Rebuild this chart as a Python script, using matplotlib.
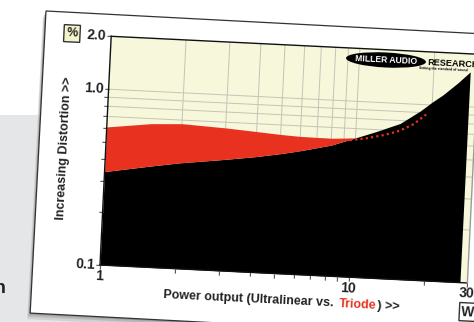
import numpy as np
import matplotlib
matplotlib.use('Agg')
import matplotlib.pyplot as plt
from matplotlib.patches import Polygon, Ellipse
from matplotlib.transforms import Affine2D, blended_transform_factory
from matplotlib.scale import LogTransform
from mpl_toolkits.axisartist import floating_axes
from mpl_toolkits.axisartist.grid_finder import FixedLocator, DictFormatter

plt.rcParams['font.family'] = ['Liberation Sans', 'DejaVu Sans']

# ── data (W, % THD) ───────────────────────────────────────────────────────────
power_ul = [1, 1.5, 2, 3, 4, 5, 6, 8, 10, 12, 15, 18, 20, 22, 25, 28]
dist_ul  = [0.34, 0.375, 0.40, 0.43, 0.455, 0.48, 0.505, 0.555, 0.62,
            0.68, 0.77, 0.92, 1.04, 1.15, 1.35, 1.58]
power_tri = [1, 1.5, 2, 3, 4, 5, 6, 8, 10]
dist_tri  = [0.61, 0.655, 0.668, 0.65, 0.632, 0.618, 0.61, 0.607, 0.62]
power_tri_hi = [9.5, 11, 13, 15, 17, 19]
dist_tri_hi  = [0.60, 0.62, 0.655, 0.70, 0.77, 0.88]

x_ticks  = [1, 2, 3, 4, 5, 6, 7, 8, 9, 10, 20, 30]
x_labels = {1: '1', 10: '10', 30: '30'}
y_ticks  = [0.1, 0.2, 0.3, 0.4, 0.5, 0.6, 0.7, 0.8, 0.9, 1.0, 2.0]
y_labels = {0.1: '0.1', 1.0: '1.0', 2.0: '2.0'}

# colours
CREAM = '#f7f7dc'
RED   = '#e8321f'
GRID  = '#c4c4b8'
BAND  = '#e5e6e8'
INK   = '#222222'

W_PX, H_PX = 474, 322
ANG = -2.8                  # the card is tilted clockwise
ORIGIN = (100, H_PX - 265)  # pixel position of (1 W, 0.1 %)

fig = plt.figure(figsize=(W_PX / 100, H_PX / 100), dpi=100)
fig.patch.set_facecolor('white')

# ── background: grey band + tilted white card ────────────────────────────────
bg = fig.add_axes([0, 0, 1, 1], zorder=0)
bg.set_xlim(0, W_PX)
bg.set_ylim(H_PX, 0)
bg.axis('off')
bg.add_patch(Polygon([(0, 115), (W_PX, 115), (W_PX, H_PX), (0, H_PX)],
                     closed=True, fc=BAND, ec='none'))

t = np.deg2rad(3.0)
u = np.array([np.cos(t), np.sin(t)])
d = np.array([-np.sin(t), np.cos(t)])
tl = np.array([46.0, 11.0])
card = [tl, tl + 650 * u, tl + 650 * u + 302.5 * d, tl + 302.5 * d]
for off, col, a in [((-3, 6), '#c4c4c4', 0.6), ((-2, 3.5), '#a8a8a8', 0.6),
                    ((-1, 1.5), '#909090', 0.7)]:
    bg.add_patch(Polygon([p + np.array(off) for p in card], closed=True,
                         fc=col, ec='none', alpha=a))
bg.add_patch(Polygon(card, closed=True, fc='white', ec='#333333', lw=0.9))
bg.text(6, 293, 'n', ha='right', va='baseline', fontsize=14,
        fontweight='bold', color=INK)

# ── the chart itself on a tilted log-log frame ───────────────────────────────
tr = (blended_transform_factory(LogTransform(10), LogTransform(10))
      + Affine2D().translate(0, 1).scale(249, 176).rotate_deg(ANG))

helper = floating_axes.GridHelperCurveLinear(
    tr, extremes=(1, 30, 0.1, 2.0),
    grid_locator1=FixedLocator(x_ticks),
    grid_locator2=FixedLocator(y_ticks),
    tick_formatter1=DictFormatter(x_labels),
    tick_formatter2=DictFormatter(y_labels))

ax = fig.add_axes([0.2, 0.2, 0.7, 0.7], axes_class=floating_axes.FloatingAxes,
                  grid_helper=helper, zorder=1)
x0, x1 = ax.get_xlim()
y0, y1 = ax.get_ylim()
ax.set_position([(ORIGIN[0] + x0) / W_PX, (ORIGIN[1] + y0) / H_PX,
                 (x1 - x0) / W_PX, (y1 - y0) / H_PX])
ax.patch.set_facecolor(CREAM)
ax.grid(True, color=GRID, lw=0.7, zorder=1.5)

for name in ['left', 'bottom', 'top', 'right']:
    a = ax.axis[name]
    a.line.set_color('#111111' if name != 'right' else '#9a9a9a')
    a.line.set_linewidth(1.0)
    a.set_zorder(6)
    a.label.set_visible(False)
for name in ['top', 'right']:
    ax.axis[name].toggle(ticks=False, ticklabels=False)
for name in ['left', 'bottom']:
    a = ax.axis[name]
    a.major_ticks.set_ticksize(3)
    a.major_ticks.set_color('#555555')
    try:
        a.major_ticks.set_tick_out(True)
    except Exception:
        pass
    a.major_ticklabels.set(fontsize=10, fontweight='bold', color=INK)
    a.major_ticklabels.set_pad(0.5)

aux = ax.get_aux_axes(tr)
aux.fill_between(power_ul, 0.1, dist_ul, color='black', lw=0, zorder=3)
aux.fill_between(power_tri, dist_ul[:len(power_tri)], dist_tri,
                 color=RED, lw=0, zorder=3)
aux.plot(power_tri_hi, dist_tri_hi, color=RED, lw=1.6, ls=(0, (1, 1.4)),
         zorder=4)

# ── labels, unit boxes and logo ──────────────────────────────────────────────
fg = fig.add_axes([0, 0, 1, 1], zorder=3)
fg.set_xlim(0, W_PX)
fg.set_ylim(H_PX, 0)
fg.axis('off')
fg.patch.set_alpha(0)

lab = dict(fontsize=9, fontweight='bold', rotation=ANG,
           rotation_mode='anchor', ha='left', va='center')
fg.text(163, 295.5, 'Power output (Ultralinear vs. ', color=INK, **lab)
fg.text(339.5, 304.0, 'Triode', color=RED, **lab)
fg.text(377.5, 306.0, ') >>', color=INK, **lab)
fg.text(65, 148, 'Increasing Distortion >>', fontsize=9, fontweight='bold',
        rotation=90 + ANG, ha='center', va='center', color=INK)

box = dict(boxstyle='square,pad=0.2', fc='#f3f3cc', ec='#333333', lw=1)
fg.text(72, 33.5, '%', fontsize=9, fontweight='bold', rotation=ANG,
        ha='center', va='center', color=INK, bbox=box)
fg.text(468, 312, 'W', fontsize=10, fontweight='bold', rotation=ANG,
        ha='center', va='center', color=INK,
        bbox=dict(boxstyle='square,pad=0.15', fc='white', ec='#333333', lw=1))

fg.add_patch(Ellipse((386, 60), 80, 15, angle=-ANG, fc='black', ec='none'))
fg.text(386, 60.2, 'MILLER AUDIO', fontsize=6.2, fontweight='bold',
        color='white', rotation=ANG, ha='center', va='center')
fg.text(427, 62.5, 'RESEARCH', fontsize=6.6, fontweight='bold',
        color='black', rotation=ANG, rotation_mode='anchor',
        ha='left', va='center')
fg.text(419, 68.5, 'Setting the standard of sound', fontsize=2.4,
        fontweight='bold', color='black', rotation=ANG,
        rotation_mode='anchor', ha='left', va='center')

fig.savefig('out.png', dpi=100, facecolor='white')
